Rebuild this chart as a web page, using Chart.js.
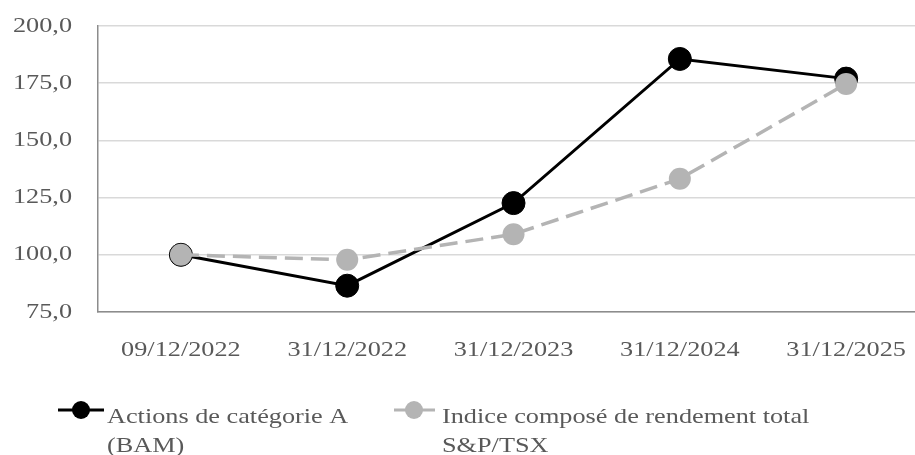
<!DOCTYPE html>
<html>
<head>
<meta charset="utf-8">
<script src="https://cdn.jsdelivr.net/npm/chart.js@4/dist/chart.umd.min.js"></script>
<style>
  html, body { margin: 0; padding: 0; background: #ffffff; overflow: hidden; width: 915px; height: 455px; }
  #wrap { width: 915px; height: 455px; position: relative; overflow: hidden; }
  #c { display: block; width: 915px; height: 455px; }
</style>
</head>
<body>
<div id="wrap"><canvas id="c" width="915" height="455"></canvas></div>
<script>
const categories = ['09/12/2022', '31/12/2022', '31/12/2023', '31/12/2024', '31/12/2025'];
const bamValues = [100.0, 86.5, 122.6, 185.6, 177.0];
const tsxValues = [100.0, 97.8, 109.0, 133.2, 174.7];
const bamLabel = ['Actions de catégorie A', '(BAM)'];
const tsxLabel = ['Indice composé de rendement total', 'S&P/TSX'];
const yMin = 75, yMax = 200, yStep = 25;

const FONT = '"Liberation Serif", "Times New Roman", serif';
const TEXT = '#595959';
const TEXT_STRETCH = 1.25;

// The reference typeface is drawn horizontally wider than its height; stretch canvas text.
(function () {
  const proto = CanvasRenderingContext2D.prototype;
  const origFill = proto.fillText;
  const origMeasure = proto.measureText;
  proto.fillText = function (text, x, y, maxWidth) {
    this.save();
    this.translate(x, y);
    this.scale(TEXT_STRETCH, 1);
    if (maxWidth !== undefined) origFill.call(this, text, 0, 0, maxWidth / TEXT_STRETCH);
    else origFill.call(this, text, 0, 0);
    this.restore();
  };
  proto.measureText = function (text) {
    const m = origMeasure.call(this, text);
    return new Proxy(m, {
      get(t, p) {
        const v = t[p];
        if (p === 'width' || p === 'actualBoundingBoxLeft' || p === 'actualBoundingBoxRight') return v * TEXT_STRETCH;
        return typeof v === 'function' ? v.bind(t) : v;
      }
    });
  };
})();

const toPoints = vals => vals.map((v, i) => ({ x: i, y: v }));

const legendPlugin = {
  id: 'customLegend',
  afterDraw(chart) {
    const ctx = chart.ctx;
    const items = [
      { label: bamLabel, color: '#000000', x1: 58, x2: 104, cx: 81, tx: 107 },
      { label: tsxLabel, color: '#b4b4b4', x1: 394, x2: 435, cx: 414, tx: 442 }
    ];
    const ly = 410;
    ctx.save();
    items.forEach(it => {
      ctx.strokeStyle = it.color;
      ctx.lineWidth = 3;
      ctx.setLineDash([]);
      ctx.beginPath();
      ctx.moveTo(it.x1, ly);
      ctx.lineTo(it.x2, ly);
      ctx.stroke();
      ctx.fillStyle = it.color;
      ctx.beginPath();
      ctx.arc(it.cx, ly, 9, 0, Math.PI * 2);
      ctx.fill();
      ctx.fillStyle = TEXT;
      ctx.font = '21px ' + FONT;
      ctx.textBaseline = 'alphabetic';
      ctx.textAlign = 'left';
      it.label.forEach((t, k) => ctx.fillText(t, it.tx, 423 + k * 29));
    });
    ctx.restore();
  }
};

new Chart(document.getElementById('c'), {
  type: 'line',
  data: {
    datasets: [
      {
        label: bamLabel.join(' '),
        data: toPoints(bamValues),
        borderColor: '#000000',
        backgroundColor: '#000000',
        borderWidth: 3,
        pointRadius: 11.5,
        pointBackgroundColor: '#000000',
        pointBorderColor: '#000000',
        pointBorderWidth: 1,
        tension: 0,
        order: 1
      },
      {
        label: tsxLabel.join(' '),
        data: toPoints(tsxValues),
        borderColor: '#b4b4b4',
        backgroundColor: '#b4b4b4',
        borderWidth: 3.5,
        borderDash: [18, 8],
        pointRadius: 11,
        pointBackgroundColor: '#b4b4b4',
        pointBorderColor: '#b4b4b4',
        pointBorderWidth: 0,
        tension: 0,
        order: 0
      }
    ]
  },
  options: {
    responsive: false,
    animation: false,
    layout: { autoPadding: false, padding: { top: 26, right: 0, left: 0, bottom: 0 } },
    plugins: { legend: { display: false }, tooltip: { enabled: false } },
    scales: {
      x: {
        type: 'linear',
        min: -0.4985,
        max: 4.414,
        afterBuildTicks: s => { s.ticks = categories.map((c, i) => ({ value: i })); },
        afterFit: s => { s.height = 143; s.paddingLeft = 0; s.paddingRight = 0; },
        ticks: {
          callback: v => categories[v] ?? '',
          autoSkip: false,
          maxRotation: 0,
          padding: 26,
          color: TEXT,
          font: { family: FONT, size: 21 }
        },
        grid: { display: true, drawOnChartArea: false, drawTicks: false, color: '#8c8c8c' },
        border: { display: true, color: '#8c8c8c', width: 1.5 }
      },
      y: {
        min: yMin,
        max: yMax,
        afterBuildTicks: s => {
          const t = [];
          for (let v = yMin; v <= yMax; v += yStep) t.push({ value: v });
          s.ticks = t;
        },
        afterFit: s => { s.width = 98; s.paddingTop = 0; s.paddingBottom = 0; s.paddingLeft = 0; s.paddingRight = 0; },
        ticks: {
          callback: v => v.toFixed(1).replace('.', ','),
          padding: 26,
          color: TEXT,
          font: { family: FONT, size: 21 }
        },
        grid: { color: '#d9d9d9', lineWidth: 1.5, drawTicks: false },
        border: { display: true, color: '#8c8c8c', width: 1.5 }
      }
    }
  },
  plugins: [legendPlugin]
});
</script>
</body>
</html>
